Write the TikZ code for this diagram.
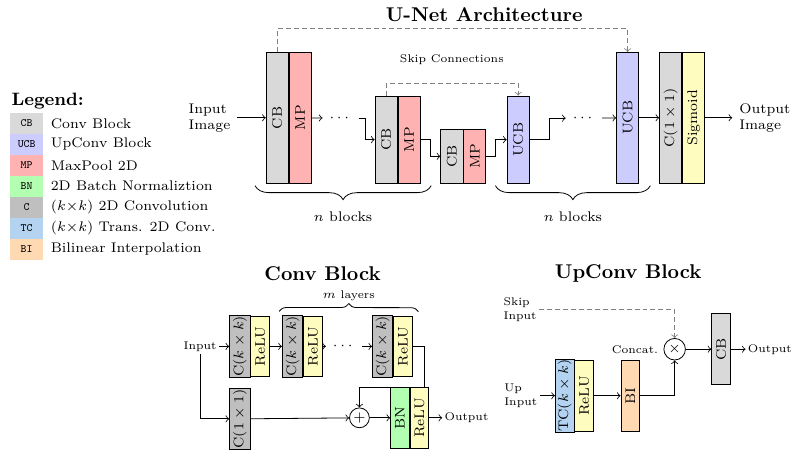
\documentclass[tikz,border=0pt]{standalone}
\usepackage{amsmath}
\usepackage{graphicx}
\usepackage{tikz}
\usetikzlibrary{positioning, decorations.pathreplacing}

\newcommand{\vtxt}[1]{\rotatebox{90}{#1}}

\begin{document}
\begin{tikzpicture}[
  font=\scriptsize,
  blk/.style={draw, inner sep=0pt, minimum width=0.39cm, anchor=south},
  tallbar/.style={blk, minimum height=2.31cm},
  medbar/.style={blk, minimum height=1.54cm},
  lowbar/.style={blk, minimum height=0.95cm},
  lyr/.style={draw, inner sep=0pt, minimum width=0.33cm, minimum height=1.07cm},
  uplyr/.style={lyr, minimum height=1.25cm},
  op/.style={circle, draw, inner sep=0pt, minimum size=0.35cm},
  note/.style={font=\fontsize{5.6}{7}\selectfont, inner sep=1pt},
  title/.style={font=\normalsize\bfseries},
  skip/.style={->, gray, dash pattern=on 2.5pt off 1.5pt},
  brc/.style={decorate, decoration={brace, amplitude=#1}},
  legbox/.style={minimum width=0.59cm, minimum height=0.37cm, inner sep=0pt, font=\fontsize{5.6}{7}\selectfont\ttfamily},
  cb/.style={fill=gray!30},
  ucb/.style={fill=blue!20},
  mp/.style={fill=red!30},
  bn/.style={fill=green!30},
  cv/.style={fill=gray!50, minimum width=0.36cm},
  tc/.style={fill=cyan!70!blue!30},
  bi/.style={fill=orange!30},
  act/.style={fill=yellow!25}
]
\useasboundingbox (0,0) rectangle (13.97,8.01);

\node[title] (unettitle) at (8.54,7.76) {U-Net Architecture};

\node[cb, tallbar] (cb1) at (4.89,4.77) {\vtxt{CB}};
\node[mp, tallbar, right=0pt of cb1] (mp1) {\vtxt{MP}};
\node[cb, medbar] (cb2) at (6.81,4.77) {\vtxt{CB}};
\node[mp, medbar, right=0pt of cb2] (mp2) {\vtxt{MP}};
\node[cb, lowbar] (cb3) at (7.97,4.77) {\vtxt{CB}};
\node[mp, lowbar, right=0pt of cb3] (mp3) {\vtxt{MP}};
\node[ucb, medbar] (ucb1) at (9.14,4.77) {\vtxt{UCB}};
\node[ucb, tallbar] (ucb2) at (11.07,4.77) {\vtxt{UCB}};
\node[cb, tallbar] (c11) at (11.83,4.77) {\vtxt{C$(1\times 1)$}};
\node[act, tallbar, right=0pt of c11] (sig) {\vtxt{Sigmoid}};

\node (dots1) at (6.01,5.925) {$\cdots$};
\node (dots2) at (10.30,5.925) {$\cdots$};
\node[align=left, left=0.5cm of cb1] (inimg) {Input\\Image};
\node[align=left, right=0.48cm of sig] (outimg) {Output\\Image};
\node[note] (skiplbl) at (7.97,6.95) {Skip Connections};

\draw[->] (inimg) -- (cb1);
\draw[->] (mp1) -- (dots1);
\draw[->] (dots1) -- ++(0.43,0) |- (cb2);
\draw[->] (mp2) -- ++(0.38,0) |- (cb3);
\draw[->] (mp3) -- ++(0.37,0) |- (ucb1);
\draw[->] (ucb1) -- ++(0.55,0) |- (dots2);
\draw[->] (dots2) -- (ucb2);
\draw[->] (ucb2) -- (c11);
\draw[->] (sig) -- (outimg);
\draw[skip] (cb1.north) -- ++(0,0.41) -| (ucb2.north);
\draw[skip] (cb2.north) -- ++(0,0.21) -| (ucb1.north);

\draw[brc=7pt, decoration={mirror}] ([xshift=-0.19cm, yshift=-1pt]cb1.south west) -- ([xshift=0.19cm, yshift=-1pt]mp2.south east) node[midway, below=9.5pt] {$n$ blocks};
\draw[brc=7pt, decoration={mirror}] ([xshift=-0.2cm, yshift=-1pt]ucb1.south west) -- ([xshift=0.2cm, yshift=-1pt]ucb2.south east) node[midway, below=9.5pt] {$n$ blocks};

\node[font=\small\bfseries, anchor=west] (legend) at (0.08,6.23) {Legend:};
\foreach \tag/\col/\txt [count=\i] in {
  CB/gray!30/Conv Block,
  UCB/blue!20/UpConv Block,
  MP/red!30/MaxPool 2D,
  BN/green!30/2D Batch Normaliztion,
  C/gray!50/$(k{\times}k)$ 2D Convolution,
  TC/cyan!70!blue!30/$(k{\times}k)$ Trans. 2D Conv.,
  BI/orange!30/Bilinear Interpolation}
{
  \node[legbox, fill=\col] (sw\i) at (0.47,{6.205-0.37*\i}) {\tag};
  \node[right=0pt of sw\i] (lg\i) {\txt};
}

\node[title] (convtitle) at (5.69,3.19) {Conv Block};
\node[lyr, cv] (c1) at (4.23,1.90) {\vtxt{C$(k\times k)$}};
\node[act, lyr, right=0pt of c1] (r1) {\vtxt{ReLU}};
\node[lyr, cv] (c2) at (5.16,1.90) {\vtxt{C$(k\times k)$}};
\node[act, lyr, right=0pt of c2] (r2) {\vtxt{ReLU}};
\node (dots3) at (6.07,1.90) {$\cdots$};
\node[lyr, cv] (c3) at (6.75,1.90) {\vtxt{C$(k\times k)$}};
\node[act, lyr, right=0pt of c3] (r3) {\vtxt{ReLU}};
\node[note, left=0.18cm of c1] (cin) {Input};
\node[lyr, cv, below=0.19cm of c1] (c1x1) {\vtxt{C$(1\times 1)$}};
\node[op] (add) at (6.34,0.64) {$+$};
\node[bn, lyr, right=0.36cm of add] (bn) {\vtxt{BN}};
\node[act, lyr, right=0pt of bn] (r4) {\vtxt{ReLU}};
\node[note, right=0.23cm of r4] (cout) {Output};

\draw[->] (cin) -- (c1);
\draw[->] (r1) -- (c2);
\draw[->] (r2) -- (dots3);
\draw[->] (dots3) -- (c3);
\draw[->] (cin) |- (c1x1);
\draw[->] (c1x1) -- (add);
\draw[->] (add) -- (bn);
\draw[->] (r4) -- (cout);
\draw[->] (r3) -| ([xshift=0.09cm]r4.north) -| (add);
\draw[brc=4pt] ([xshift=-0.05cm, yshift=2pt]c2.north west) -- ([xshift=0.1cm, yshift=2pt]r3.north east) node[note, midway, above=4pt] {$m$ layers};

\node[title] (uptitle) at (11.08,3.19) {UpConv Block};
\node[tc, uplyr] (tc1) at (9.96,1.03) {\vtxt{TC$(k\times k)$}};
\node[act, uplyr, right=0pt of tc1] (r5) {\vtxt{ReLU}};
\node[bi, uplyr, right=0.47cm of r5] (bi1) {\vtxt{BI}};
\node[op, minimum size=0.38cm] (cat) at (11.9,1.85) {$\times$};
\node[cb, uplyr, right=0.45cm of cat] (cbu) {\vtxt{CB}};
\node[note, align=left, left=0.27cm of tc1] (upin) {Up\\Input};
\node[note, align=left, anchor=west] (skipin) at (8.84,2.55) {Skip\\Input};
\node[note, left=1.5pt of cat] (catlbl) {Concat.};
\node[note, right=0.26cm of cbu] (uout) {Output};

\draw[->] (upin) -- (tc1);
\draw[->] (r5) -- (bi1);
\draw[->] (bi1) -| (cat);
\draw[skip] (skipin) -| (cat);
\draw[->] (cat) -- (cbu);
\draw[->] (cbu) -- (uout);
\end{tikzpicture}
\end{document}
